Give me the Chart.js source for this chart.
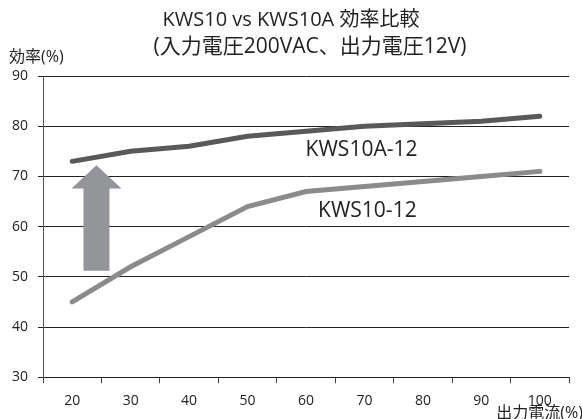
<!DOCTYPE html>
<html>
<head>
<meta charset="utf-8">
<script src="https://cdn.jsdelivr.net/npm/chart.js@4/dist/chart.umd.min.js"></script>
<style>
  body { margin: 0; background: #fff; }
  #wrap { width: 582px; height: 419px; }
</style>
</head>
<body>
<div id="wrap"><canvas id="eff-chart" width="582" height="419"></canvas></div>
<script>
const currentLabels = ['20', '30', '40', '50', '60', '70', '80', '90', '100'];
const kws10aValues = [73, 75, 76, 78, 79, 80, 80.5, 81, 82];
const kws10Values = [45, 52, 58, 64, 67, 68, 69, 70, 71];
const yTicks = [30, 40, 50, 60, 70, 80, 90];

const titleLines = ['KWS10 vs KWS10A 効率比較', '(入力電圧200VAC、出力電圧12V)'];
const yTitle = '効率(%)';
const xTitle = '出力電流(%)';

const FONT = "'Open Sans', 'Noto Sans CJK JP', sans-serif";
const TEXT = '#222';

// titles, series names, arrow
const decor = {
  id: 'decor',
  afterDraw(chart) {
    const c = chart.ctx;
    const x = chart.scales.x, y = chart.scales.y;
    c.save();
    c.fillStyle = TEXT;
    c.textAlign = 'center';
    c.textBaseline = 'middle';
    c.font = '20px ' + FONT;
    c.fillText(titleLines[0], 291, 20);
    c.font = '21px ' + FONT;
    c.fillText(titleLines[1], 310, 47);

    c.font = '16px ' + FONT;
    c.textAlign = 'left';
    c.fillText(yTitle, 9, 57);
    c.textAlign = 'right';
    c.fillText(xTitle, 583, 413);

    // series names
    c.font = '21px ' + FONT;
    c.textAlign = 'center';
    c.fillText('KWS10A-12', x.getPixelForValue(4.95), y.getPixelForValue(75.2));
    c.fillText('KWS10-12', x.getPixelForValue(5.05), y.getPixelForValue(63.2));

    // up arrow
    const cx = (x.getPixelForValue(0) + x.getPixelForValue(1)) / 2 - 5;
    const top = y.getPixelForValue(72.2), base = y.getPixelForValue(67.6), bot = y.getPixelForValue(51.2);
    c.fillStyle = '#939598';
    c.beginPath();
    c.moveTo(cx, top);
    c.lineTo(cx + 25, base);
    c.lineTo(cx + 13, base);
    c.lineTo(cx + 13, bot);
    c.lineTo(cx - 13, bot);
    c.lineTo(cx - 13, base);
    c.lineTo(cx - 25, base);
    c.closePath();
    c.fill();
    c.restore();
  }
};

new Chart(document.getElementById('eff-chart'), {
  type: 'line',
  data: {
    labels: currentLabels,
    datasets: [{
      label: 'KWS10A-12',
      data: kws10aValues,
      borderColor: '#58595b',
      borderWidth: 5,
      borderCapStyle: 'round',
      pointRadius: 0,
      tension: 0
    }, {
      label: 'KWS10-12',
      data: kws10Values,
      borderColor: '#8a8b8d',
      borderWidth: 5,
      borderCapStyle: 'round',
      pointRadius: 0,
      tension: 0
    }]
  },
  options: {
    responsive: false,
    animation: false,
    layout: { padding: { top: 76, right: 13, bottom: 1, left: 2 } },
    plugins: { legend: { display: false }, tooltip: { enabled: false } },
    scales: {
      x: {
        offset: true,
        grid: { offset: true, drawOnChartArea: false, drawTicks: true, tickLength: 6, color: '#444' },
        border: { color: '#222', width: 1 },
        ticks: { color: TEXT, font: { family: FONT, size: 14 }, padding: 9 }
      },
      y: {
        min: 30, max: 90,
        afterBuildTicks: s => { s.ticks = yTicks.map(v => ({ value: v })); },
        grid: { color: '#222', tickLength: 5 },
        border: { color: '#555', width: 1 },
        ticks: { color: TEXT, font: { family: FONT, size: 14 }, padding: 10 }
      }
    }
  },
  plugins: [decor]
});
</script>
</body>
</html>
